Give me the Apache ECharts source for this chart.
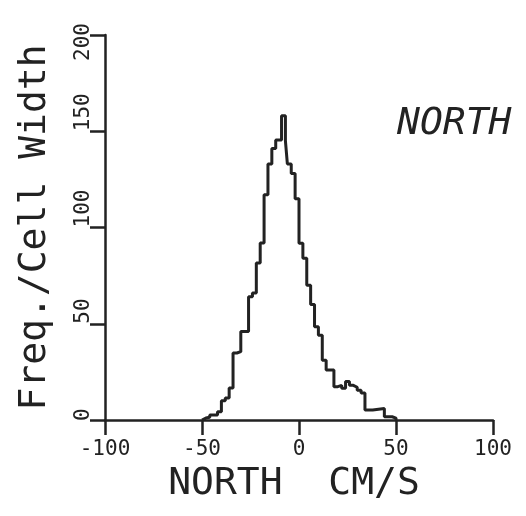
<!DOCTYPE html>
<html>
<head>
<meta charset="utf-8">
<script src="https://cdn.jsdelivr.net/npm/echarts@6/dist/echarts.min.js"></script>
<style>
  html, body { margin: 0; padding: 0; background: #ffffff; }
  #chart { width: 526px; height: 516px; }
</style>
</head>
<body>
<div id="chart"></div>
<script>
// Histogram step breakpoints: velocity (cm/s) where the level changes, and the level from there on
const stepEdges = [-50, -48, -46, -42, -40, -38, -36, -34, -32, -30, -26, -24, -22, -20, -18, -16, -14, -12, -9, -7, -6, -4, -2, 0, 2, 4, 6, 8, 10, 12, 14, 18, 20, 22, 24, 26, 28, 30, 32, 34, 38, 44, 48, 50];
const stepLevels = [1, 1.4, 2.6, 4.3, 10, 11.4, 16.6, 34.8, 35.5, 46, 64, 66, 81.6, 92, 117, 133, 141, 145.5, 158, 145, 133, 128, 115, 91.8, 84, 70, 60, 48.5, 44, 31, 26, 17.3, 18, 16.5, 20, 18, 17, 15.5, 14, 5.2, 6, 1.7, 1, 0];

const xTicks = [-100, -50, 0, 50, 100];
const yTicks = [0, 50, 100, 150, 200];

const xTitle = 'NORTH  CM/S';
const yTitle = 'Freq./Cell Width';
const panelLabel = 'NORTH';

const ink = '#222222';
const mono = '"DejaVu Sans Mono", "Liberation Mono", monospace';
const labelSize = 21;
const charW = labelSize * 0.602;

const seriesData = [[stepEdges[0], 0]].concat(stepEdges.map((x, i) => [x, stepLevels[i]]));

// y labels: start at the tick and read upward; the top label sits just below its tick
const yRich = {
  p1: { padding: [0, 0, 0, charW * 1 - 2] },
  p2: { padding: [0, 0, 0, charW * 2] },
  p3: { padding: [0, 0, 0, charW * 3] },
  top: { padding: [0, 14, 0, 0] }
};

const chart = echarts.init(document.getElementById('chart'), null, { renderer: 'canvas' });
chart.setOption({
  animation: false,
  backgroundColor: '#ffffff',
  grid: { left: 105, right: 33, top: 35, bottom: 96, containLabel: false },
  xAxis: {
    type: 'value',
    min: xTicks[0],
    max: xTicks[xTicks.length - 1],
    interval: 50,
    name: xTitle,
    nameLocation: 'middle',
    nameGap: 43,
    nameTextStyle: { fontFamily: mono, fontSize: 38, color: ink, padding: [0, 10, 0, 0] },
    axisLine: { show: true, onZero: false, lineStyle: { color: ink, width: 2.5 } },
    axisTick: { show: true, length: 15, lineStyle: { color: ink, width: 2.5 } },
    axisLabel: { fontFamily: mono, fontSize: labelSize, color: ink, margin: 19 },
    splitLine: { show: false }
  },
  yAxis: {
    type: 'value',
    min: yTicks[0],
    max: yTicks[yTicks.length - 1],
    interval: 50,
    name: yTitle,
    nameLocation: 'middle',
    nameRotate: 90,
    nameGap: 51,
    nameTextStyle: { fontFamily: mono, fontSize: 38, color: ink, align: 'center', verticalAlign: 'bottom' },
    axisLine: { show: true, onZero: false, lineStyle: { color: ink, width: 2.5 } },
    axisTick: { show: true, length: 15, lineStyle: { color: ink, width: 2.5 } },
    axisLabel: {
      fontFamily: mono, fontSize: labelSize, color: ink, rotate: 90,
      align: 'center', verticalAlign: 'bottom', margin: 11,
      formatter: function (v) {
        const s = String(v);
        if (v === yTicks[yTicks.length - 1]) return '{top|' + s + '}';
        return '{p' + s.length + '|' + s + '}';
      },
      rich: yRich
    },
    splitLine: { show: false }
  },
  graphic: [{
    type: 'text',
    left: 397,
    top: 105,
    style: { text: panelLabel, font: 'italic 38px ' + mono, fill: ink }
  }],
  series: [{
    type: 'line',
    step: 'end',
    data: seriesData,
    showSymbol: false,
    symbol: 'none',
    lineStyle: { color: ink, width: 3 },
    clip: false
  }]
});
</script>
</body>
</html>
